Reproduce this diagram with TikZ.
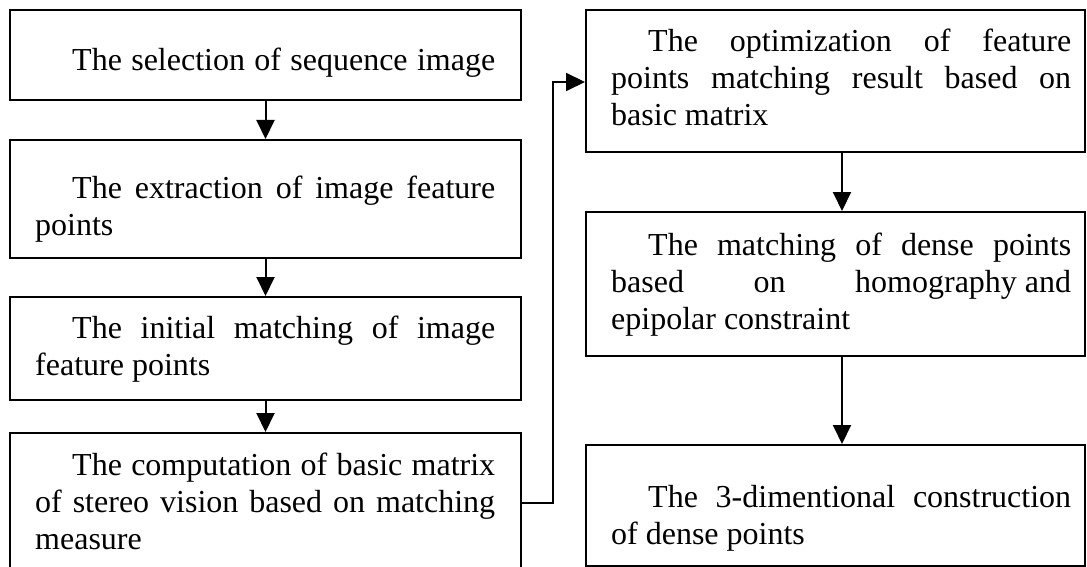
\documentclass[tikz,border=0pt]{standalone}
\usepackage{fontspec}
\setmainfont{Liberation Serif}
\usetikzlibrary{arrows.meta}
\tikzset{
  flowbox/.style={draw=black, line width=2pt, rectangle, inner sep=0pt, fill=white},
  txt/.style={inner sep=0pt, anchor=base west, font=\fontsize{32}{37}\selectfont},
  arr/.style={line width=2pt, -{Triangle[length=19pt,width=18pt]}}
}
\newcommand{\fl}[1]{\hspace*{37pt}\makebox[423pt][s]{#1}}
\newcommand{\jl}[1]{\makebox[460pt][s]{#1}}
\begin{document}
\begin{tikzpicture}[x=1pt,y=1pt]
\clip (0,0) rectangle (1087,-567);
\fill[white] (0,0) rectangle (1087,-567);
% left column boxes
\node[flowbox, minimum width=511pt, minimum height=90pt] (L1) at (265.5,-55) {};
\node[flowbox, minimum width=511pt, minimum height=118pt] (L2) at (265.5,-199) {};
\node[flowbox, minimum width=511pt, minimum height=103pt] (L3) at (265.5,-348.5) {};
\node[flowbox, minimum width=511pt, minimum height=167pt] (L4) at (265.5,-516.5) {};
% right column boxes
\node[flowbox, minimum width=499pt, minimum height=142pt] (R1) at (835.5,-81) {};
\node[flowbox, minimum width=499pt, minimum height=144pt] (R2) at (835.5,-284) {};
\node[flowbox, minimum width=499pt, minimum height=121pt] (R3) at (835.5,-505.5) {};
% texts
\node[txt] (T1) at (35,-71) {\parbox[t]{460pt}{\fl{The selection of sequence image}}};
\node[txt] (T2) at (35,-198) {\parbox[t]{460pt}{\fl{The extraction of image feature}\\points}};
\node[txt] (T3) at (35,-338) {\parbox[t]{460pt}{\fl{The initial matching of image}\\feature points}};
\node[txt] (T4) at (35,-475) {\parbox[t]{460pt}{\fl{The computation of basic matrix}\\\jl{of stereo vision based on matching}\\measure}};
\node[txt] (T5) at (611,-52) {\parbox[t]{460pt}{\fl{The optimization of feature}\\\jl{points matching result based on}\\basic matrix}};
\node[txt] (T6) at (611,-255) {\parbox[t]{460pt}{\fl{The matching of dense points}\\\jl{based\hfill on\hfill homography and}\\epipolar constraint}};
\node[txt] (T7) at (611,-507) {\parbox[t]{460pt}{\fl{The 3-dimentional construction}\\of dense points}};
% connectors
\draw[arr] (L1.south) -- (L2.north);
\draw[arr] (L2.south) -- (L3.north);
\draw[arr] (L3.south) -- (L4.north);
\draw[arr] ([xshift=6.5pt]R1.south) -- ([xshift=6.5pt]R2.north);
\draw[arr] ([xshift=6.5pt]R2.south) -- ([xshift=6.5pt]R3.north);
\coordinate (j1) at (553,-503);
\coordinate (j2) at (553,-82);
\draw[arr] (L4.east |- j1) -- (j1) -- (j2) -- (R1.west |- j2);
\end{tikzpicture}
\end{document}
